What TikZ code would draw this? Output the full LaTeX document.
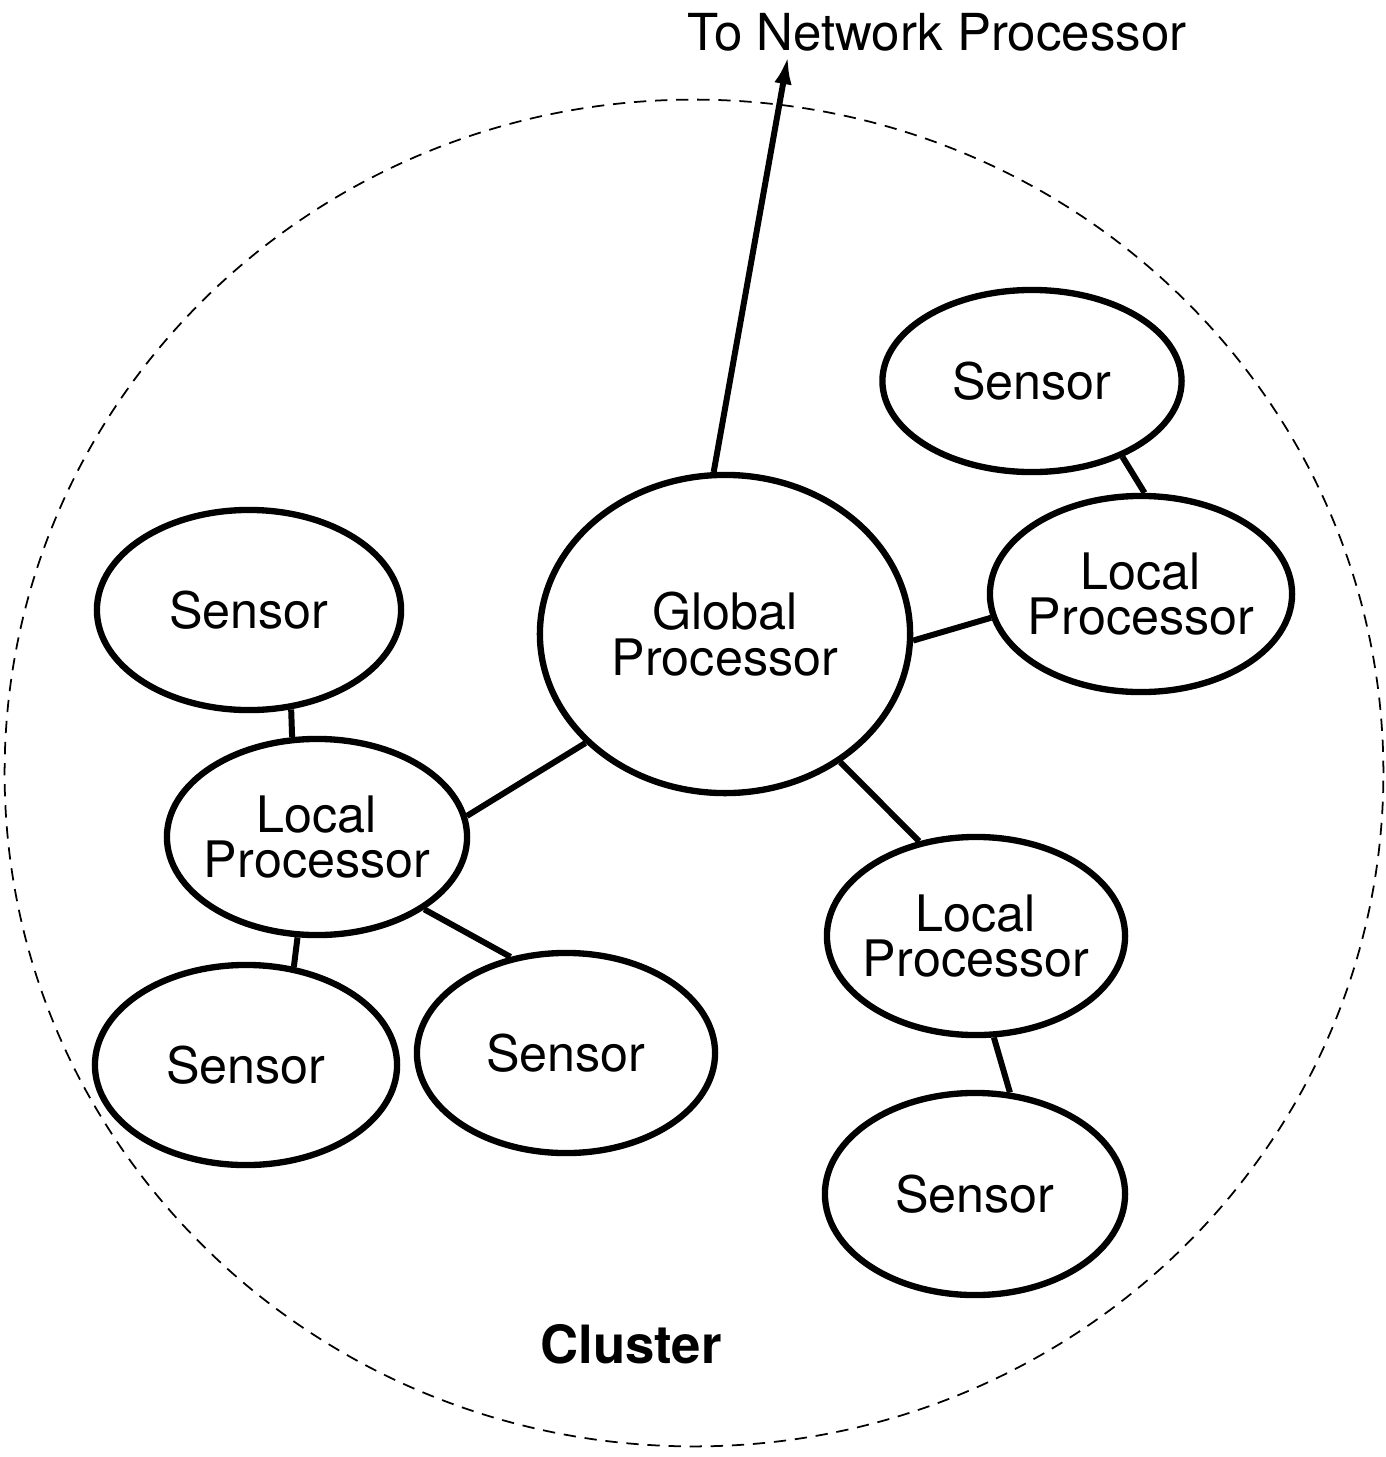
\documentclass[tikz,border=0pt]{standalone}
\usepackage{fontspec}
\setmainfont{TeX Gyre Heros}
\usetikzlibrary{shapes.geometric,arrows.meta}

\begin{document}
\begin{tikzpicture}[x=0.01cm, y=-0.01cm,
	elipse/.style={ellipse, draw, line width=1.8pt, inner ysep=0pt, inner xsep=-3pt,
		minimum width=3cm, minimum height=1.96cm, align=center,
		font=\fontsize{14.3}{13}\selectfont},
	enlace/.style={line width=1.7pt}]

\useasboundingbox (0,0) rectangle (1386,1457);

% Cluster
\draw[dash pattern=on 3.5pt off 2.5pt, line width=0.5pt] (694,773) ellipse [x radius=6.89cm, y radius=6.73cm];
\node[anchor=base, font=\fontsize{15}{15}\selectfont\bfseries] (cl) at (631,1363) {Cluster};

% Procesador global
\node[elipse, minimum width=3.7cm, minimum height=3.18cm] (G) at (725,634) {Global\\Processor};
\node[anchor=base, font=\fontsize{14.5}{14.5}\selectfont] (red) at (937,50) {To Network Processor};
\coordinate (R) at (788,56);
\draw[enlace, -{Latex[length=8pt,width=5pt]}] (G.94.7) -- (R);

% Procesadores locales
\node[elipse, minimum width=3.02cm] (L1) at (1141,594) {Local\\Processor};
\node[elipse] (L2) at (317,837) {Local\\Processor};
\node[elipse, minimum width=2.98cm, minimum height=1.98cm] (L3) at (976,936) {Local\\Processor};

% Sensores
\node[elipse, minimum width=2.99cm, minimum height=1.82cm] (S1) at (1032,381) {Sensor};
\node[elipse, minimum width=3.04cm, minimum height=2cm] (S2) at (249,610) {Sensor};
\node[elipse, minimum width=3.02cm, minimum height=2cm] (S3) at (246,1065) {Sensor};
\node[elipse, minimum width=2.98cm, minimum height=2cm] (S4) at (566,1053) {Sensor};
\node[elipse, minimum height=2.02cm] (S5) at (975,1194) {Sensor};

% Enlaces
\draw[enlace] (G.-2.8) -- (L1.189.2);
\draw[enlace] (S1.-40) -- (L1.88.8);
\draw[enlace] (L2.8.3) -- (G.218.9);
\draw[enlace] (S2.-67.7) -- (L2.104);
\draw[enlace] (L2.259.2) -- (S3.64.8);
\draw[enlace] (L2.-34.1) -- (S4.120.5);
\draw[enlace] (G.-48.9) -- (L3.121.6);
\draw[enlace] (L3.-80.9) -- (S5.71.7);
\end{tikzpicture}
\end{document}
